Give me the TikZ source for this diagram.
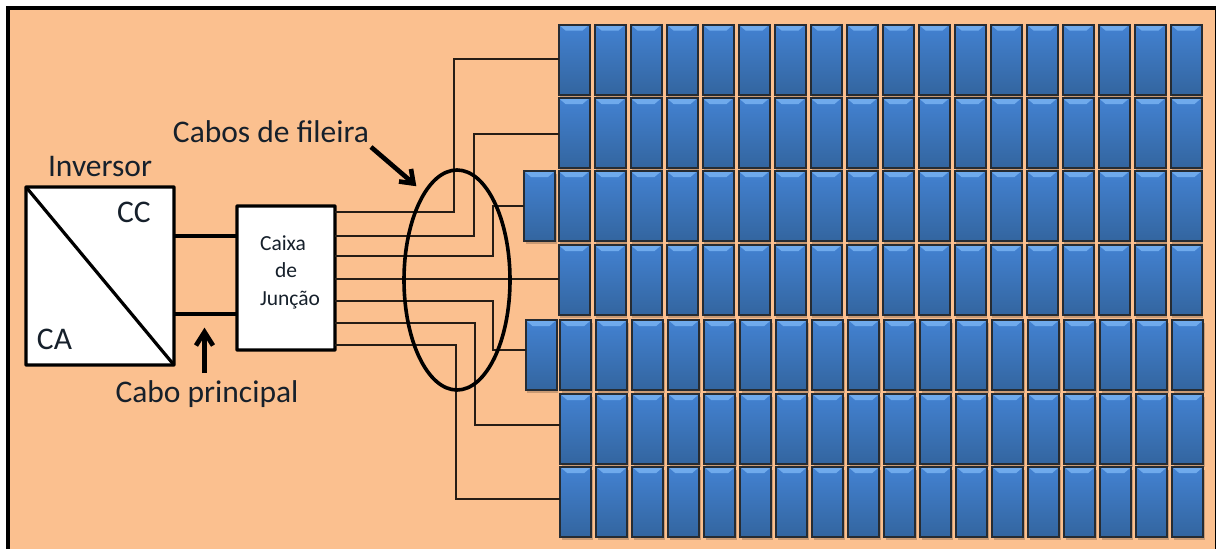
\documentclass[tikz,border=0pt]{standalone}
\usepackage{fontspec}
\setmainfont{Carlito}
\usetikzlibrary{shadows,shapes.geometric}
\definecolor{bgpeach}{HTML}{FBC08F}
\definecolor{paneltop}{HTML}{4382D2}
\definecolor{panelbot}{HTML}{33659F}
\definecolor{panelhi}{HTML}{6FAAEC}
\definecolor{panelline}{HTML}{262C33}
\definecolor{inktext}{HTML}{16202B}
\tikzset{
  panel/.style={draw=panelline,line width=2pt,minimum width=31pt,minimum height=70pt,inner sep=0pt,outer sep=0pt,
    top color=paneltop,bottom color=panelbot,
    general shadow={shadow xshift=1.5pt,shadow yshift=-2.5pt,fill=black!70!bgpeach,opacity=.28},
    path picture={\fill[panelhi] (path picture bounding box.north west) -- (path picture bounding box.north east)
      -- ([xshift=-7pt,yshift=-6pt]path picture bounding box.north east) -- ([xshift=7pt,yshift=-6pt]path picture bounding box.north west) -- cycle;}},
  boxnode/.style={draw=black,fill=white,line width=3.4pt,rounded corners=0.5pt,inner sep=0pt,outer sep=0pt},
  wire/.style={draw=black!85!bgpeach,line width=1.1pt},
  maincable/.style={draw=black,line width=4.8pt},
  callout/.style={draw=black,line width=4.6pt,miter limit=10},
  calloutshadow/.style={callout,opacity=.2,shift={(2pt,-3pt)}},
  label/.style={text=inktext,font=\fontsize{31.5}{34}\selectfont,inner sep=0pt},
  smalllabel/.style={text=inktext,font=\fontsize{21.5}{24}\selectfont,inner sep=0pt}
}
\begin{document}
\begin{tikzpicture}[x=1pt,y=-1pt]
\useasboundingbox (0,0) rectangle (1216,549);
\fill[white] (0,0) rectangle (1216,549);
\fill[bgpeach] (8,8) rectangle (1215,549);
\draw[black,line width=3.6pt] (7.8,560) -- (7.8,7.8) -- (1216,7.8);
\draw[black,line width=1.5pt] (1216,7.8) -- (1216,560);
% panels: rows 1-4
\foreach \r/\yy in {1/59.5,2/133,3/206,4/280}{
  \foreach \c in {1,...,18}{
    \node[panel] (p-\r-\c) at ({574+(\c-1)*36},\yy) {};
  }
}
\foreach \r/\yy in {5/355,6/429,7/502}{
  \foreach \c in {1,...,18}{
    \node[panel] (p-\r-\c) at ({575.7+(\c-1)*36},\yy) {};
  }
}
\node[panel] (extraA) at (539.5,206) {};
\node[panel] (extraB) at (541,355) {};
% boxes
\node[boxnode,minimum width=148pt,minimum height=178pt] (inv) at (100,276) {};
\node[boxnode,minimum width=98pt,minimum height=144pt] (jb) at (286,278) {};
\draw[black,line width=3.2pt] (inv.north west) -- (inv.south east);
% junction box exits and wire routes
\foreach \n/\yy in {1/212,2/236,3/256,4/279,5/301,6/323,7/345}{\coordinate (j\n) at (335,\yy);}
\coordinate (b1) at (454,59);
\coordinate (b2) at (474,134);
\coordinate (b3) at (493,206);
\coordinate (b5) at (493,350);
\coordinate (b6) at (475,425);
\coordinate (b7) at (456,499);
\draw[wire] (j1) -| (b1) -- (b1 -| p-1-1.west);
\draw[wire] (j2) -| (b2) -- (b2 -| p-2-1.west);
\draw[wire] (j3) -| (b3) -- (b3 -| extraA.west);
\draw[wire] (j4) -- (j4 -| p-4-1.west);
\draw[wire] (j5) -| (b5) -- (b5 -| extraB.west);
\draw[wire] (j6) -| (b6) -- (b6 -| p-6-1.west);
\draw[wire] (j7) -| (b7) -- (b7 -| p-7-1.west);
% main cables
\draw[maincable] (inv.east |- 0,236) -- (jb.west |- 0,236);
\draw[maincable] (inv.east |- 0,314) -- (jb.west |- 0,314);
% ellipse
\node[ellipse,draw=black,line width=3.6pt,minimum width=106pt,minimum height=220pt,inner sep=0pt] (ring) at (457,280) {};
% texts
\node[label,anchor=base] (tinv) at (100,176) {Inversor};
\node[label,anchor=base] (tcc) at (134,222) {CC};
\node[label,anchor=base] (tca) at (54.5,349) {CA};
\node[label,anchor=base] (tprin) at (207,402) {Cabo principal};
\node[label,anchor=base] (tfil) at (271,142) {Cabos de fileira};
\node[smalllabel,anchor=base] (t1) at (283,250) {Caixa};
\node[smalllabel,anchor=base] (t2) at (286,277) {de};
\node[smalllabel,anchor=base] (t3) at (290,305) {Junção};
% callouts: shaft plus two barbs meeting at the tip
\coordinate (aS) at (371,147);
\coordinate (aT) at (413.5,183.5);
\coordinate (aL) at (411,169);
\coordinate (aR) at (399,181.5);
\coordinate (cS) at (204.5,373);
\coordinate (cT) at (204.5,332);
\coordinate (cL) at (196,345.5);
\coordinate (cR) at (213,345.5);
\foreach \st in {calloutshadow,callout}{
  \draw[\st] (aS) -- (aT);
  \draw[\st] (aL) -- (aT) -- (aR);
  \draw[\st] (cS) -- (cT);
  \draw[\st] (cL) -- (cT) -- (cR);
}
\end{tikzpicture}
\end{document}
